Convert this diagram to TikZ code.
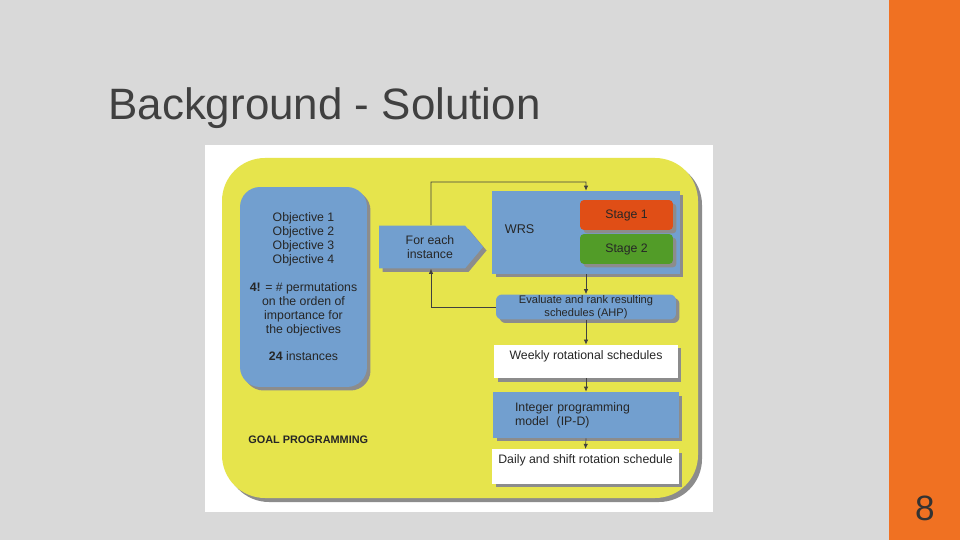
\documentclass[tikz,border=0pt]{standalone}
\usepackage{fontspec}
\setmainfont{Liberation Sans}
\usetikzlibrary{arrows.meta,shapes.symbols,shadows}

\definecolor{slidegray}{RGB}{217,217,217}
\definecolor{slideorange}{RGB}{240,113,34}
\definecolor{titlegray}{RGB}{64,64,64}
\definecolor{goalyellow}{RGB}{230,228,76}
\definecolor{boxblue}{RGB}{114,159,207}
\definecolor{stagered}{RGB}{224,78,22}
\definecolor{stagegreen}{RGB}{82,156,40}

\begin{document}
\begin{tikzpicture}[x=0.02cm,y=-0.02cm]

\tikzstyle{box}=[fill=boxblue,text=black!85,font=\fontsize{7}{7.9}\selectfont,
  drop shadow={shadow xshift=0.07cm,shadow yshift=-0.07cm,fill=black!45,opacity=1}]
\tikzstyle{flow}=[draw=black!75,line width=0.4pt,-{Latex[length=0.1cm,width=0.09cm]}]

% Slide background and page number bar
\useasboundingbox (0,0) rectangle (960,540);
\fill[slidegray] (0,0) rectangle (960,540);
\fill[slideorange] (889,0) rectangle (960,540);
\node[anchor=base west,inner sep=0pt,text=titlegray,font=\fontsize{25}{29}\selectfont] (title) at (108,120) {Background - Solution};
\node[anchor=base,inner sep=0pt,text=black!80,font=\fontsize{20}{24}\selectfont] (page) at (925,520) {8};

% The picture itself
\fill[white] (205,145) rectangle (713,512);
\fill[goalyellow,rounded corners=0.86cm,
  drop shadow={shadow xshift=0.08cm,shadow yshift=-0.08cm,fill=black!45,opacity=1}]
  (222,158) rectangle (698,498);

% Boxes
\node[box,rounded corners=0.4cm,minimum width=2.54cm,minimum height=4cm,align=center] (obj) at (303.5,287)
  {Objective 1\\Objective 2\\Objective 3\\Objective 4\\[7.9pt]
   \textbf{4!} = \# permutations\\on the orden of\\importance for\\the objectives\\[7.9pt]
   \textbf{24} instances};
\node[box,signal,signal to=east,signal pointer angle=100,minimum width=2.08cm,minimum height=0.86cm,
  inner sep=0pt,align=center] (each) at (422,247)
  {\hspace*{0.32cm}For each\\\hspace*{0.32cm}instance};
\node[box,minimum width=3.76cm,minimum height=1.66cm,
  label={[anchor=west,xshift=0.14cm,yshift=0.07cm,text=black!85,font=\fontsize{7.2}{8}\selectfont]west:WRS}] (wrs) at (586,232.5) {};
\node[box,fill=stagered,rounded corners=0.08cm,minimum width=1.86cm,minimum height=0.6cm] (st1) at (626.5,215) {Stage 1};
\node[box,fill=stagegreen,rounded corners=0.08cm,minimum width=1.86cm,minimum height=0.6cm] (st2) at (626.5,249) {Stage 2};
\node[box,rounded corners=0.12cm,minimum width=3.6cm,minimum height=0.5cm,inner sep=0pt,align=center,
  font=\fontsize{6.3}{7.6}\selectfont] (eval) at (586,307) {Evaluate and rank resulting\\schedules (AHP)};
\node[box,fill=white,minimum width=3.68cm,minimum height=0.62cm,text depth=0.25cm] (weekly) at (586,361.5) {Weekly rotational schedules};
\node[box,minimum width=3.72cm,minimum height=0.92cm,text width=2.84cm,inner xsep=0.44cm,align=left] (integer) at (586,415)
  {Integer programming\\model\ \ (IP-D)};
\node[box,fill=white,minimum width=3.7cm,minimum height=0.62cm,text depth=0.28cm] (daily) at (585.5,466.5) {Daily and shift rotation schedule};
\node[anchor=west,inner sep=0pt,text=black!85,font=\bfseries\fontsize{6.2}{7}\selectfont] (goal) at (248,440) {GOAL PROGRAMMING};

% Links between the boxes
\coordinate (loop) at (431,182);
\draw[flow] ([xshift=0.18cm]each.north) -- (loop) -| (wrs.north);
\draw[flow] (eval.west) -| ([xshift=0.18cm]each.south);
\draw[flow] (wrs.south) -- (eval.north);
\draw[flow] (eval.south) -- (weekly.north);
\draw[flow] (weekly.south) -- (integer.north);
\draw[flow] (integer.south) -- (daily.north);

\end{tikzpicture}
\end{document}
